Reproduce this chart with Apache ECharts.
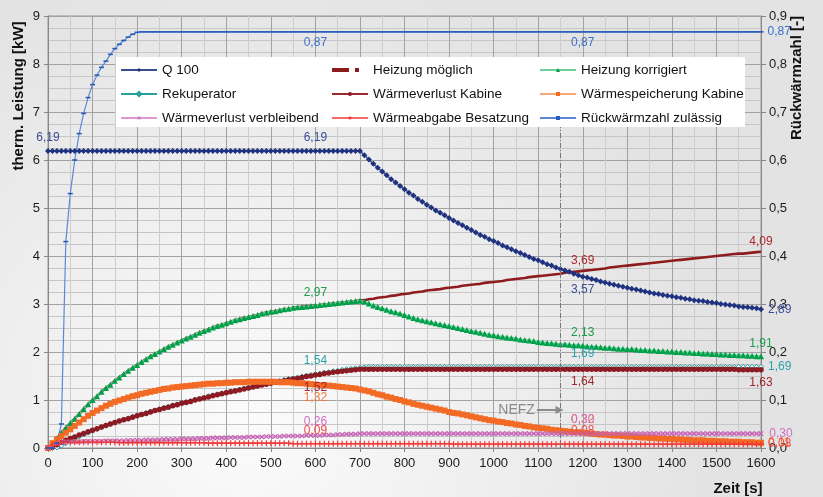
<!DOCTYPE html>
<html>
<head>
<meta charset="utf-8">
<script src="https://cdn.jsdelivr.net/npm/echarts@6/dist/echarts.min.js"></script>
<style>
html, body { margin: 0; padding: 0; }
#main { width: 823px; height: 497px; }
</style>
</head>
<body>
<div id="main"></div>
<script>
// Zeitachse [s]
var times = [0,
  10, 20, 30, 40, 50, 60, 70, 80, 90, 100,
  110, 120, 130, 140, 150, 160, 170, 180, 190, 200,
  210, 220, 230, 240, 250, 260, 270, 280, 290, 300,
  310, 320, 330, 340, 350, 360, 370, 380, 390, 400,
  410, 420, 430, 440, 450, 460, 470, 480, 490, 500,
  510, 520, 530, 540, 550, 560, 570, 580, 590, 600,
  610, 620, 630, 640, 650, 660, 670, 680, 690, 700,
  710, 720, 730, 740, 750, 760, 770, 780, 790, 800,
  810, 820, 830, 840, 850, 860, 870, 880, 890, 900,
  910, 920, 930, 940, 950, 960, 970, 980, 990, 1000,
  1010, 1020, 1030, 1040, 1050, 1060, 1070, 1080, 1090, 1100,
  1110, 1120, 1130, 1140, 1150, 1160, 1170, 1180, 1190, 1200,
  1210, 1220, 1230, 1240, 1250, 1260, 1270, 1280, 1290, 1300,
  1310, 1320, 1330, 1340, 1350, 1360, 1370, 1380, 1390, 1400,
  1410, 1420, 1430, 1440, 1450, 1460, 1470, 1480, 1490, 1500,
  1510, 1520, 1530, 1540, 1550, 1560, 1570, 1580, 1590, 1600];

var q100 = [6.19,
  6.19, 6.19, 6.19, 6.19, 6.19, 6.19, 6.19, 6.19, 6.19, 6.19,
  6.19, 6.19, 6.19, 6.19, 6.19, 6.19, 6.19, 6.19, 6.19, 6.19,
  6.19, 6.19, 6.19, 6.19, 6.19, 6.19, 6.19, 6.19, 6.19, 6.19,
  6.19, 6.19, 6.19, 6.19, 6.19, 6.19, 6.19, 6.19, 6.19, 6.19,
  6.19, 6.19, 6.19, 6.19, 6.19, 6.19, 6.19, 6.19, 6.19, 6.19,
  6.19, 6.19, 6.19, 6.19, 6.19, 6.19, 6.19, 6.19, 6.19, 6.19,
  6.19, 6.19, 6.19, 6.19, 6.19, 6.19, 6.19, 6.19, 6.19, 6.19,
  6.10, 6.01, 5.92, 5.84, 5.76, 5.68, 5.60, 5.53, 5.46, 5.39,
  5.32, 5.26, 5.19, 5.13, 5.07, 5.01, 4.95, 4.90, 4.85, 4.79,
  4.74, 4.69, 4.64, 4.59, 4.54, 4.49, 4.44, 4.40, 4.35, 4.31,
  4.27, 4.22, 4.18, 4.14, 4.10, 4.06, 4.02, 3.98, 3.94, 3.91,
  3.87, 3.83, 3.80, 3.76, 3.73, 3.70, 3.67, 3.63, 3.60, 3.57,
  3.55, 3.52, 3.50, 3.47, 3.45, 3.42, 3.40, 3.38, 3.36, 3.34,
  3.32, 3.30, 3.28, 3.26, 3.24, 3.22, 3.21, 3.19, 3.17, 3.16,
  3.14, 3.13, 3.11, 3.10, 3.08, 3.07, 3.06, 3.04, 3.03, 3.02,
  3.00, 2.99, 2.98, 2.97, 2.95, 2.94, 2.93, 2.92, 2.91, 2.89];

var heizungMoeglich = [0,
  0.05, 0.20, 0.32, 0.42, 0.52, 0.61, 0.71, 0.81, 0.91, 1.00,
  1.08, 1.17, 1.25, 1.32, 1.40, 1.47, 1.54, 1.61, 1.67, 1.73,
  1.79, 1.85, 1.91, 1.96, 2.01, 2.06, 2.11, 2.15, 2.20, 2.24,
  2.28, 2.32, 2.36, 2.40, 2.44, 2.47, 2.51, 2.54, 2.57, 2.60,
  2.63, 2.66, 2.68, 2.71, 2.73, 2.75, 2.77, 2.80, 2.82, 2.84,
  2.85, 2.87, 2.89, 2.90, 2.92, 2.93, 2.94, 2.95, 2.96, 2.97,
  2.98, 2.99, 3.00, 3.01, 3.02, 3.03, 3.04, 3.05, 3.06, 3.07,
  3.08, 3.10, 3.11, 3.13, 3.14, 3.15, 3.17, 3.18, 3.20, 3.21,
  3.22, 3.24, 3.25, 3.26, 3.28, 3.29, 3.30, 3.31, 3.33, 3.34,
  3.35, 3.36, 3.38, 3.39, 3.40, 3.41, 3.42, 3.44, 3.45, 3.46,
  3.47, 3.48, 3.50, 3.51, 3.52, 3.53, 3.54, 3.56, 3.57, 3.58,
  3.59, 3.60, 3.61, 3.62, 3.63, 3.65, 3.66, 3.67, 3.68, 3.69,
  3.70, 3.71, 3.72, 3.73, 3.74, 3.76, 3.77, 3.78, 3.79, 3.80,
  3.81, 3.82, 3.83, 3.84, 3.85, 3.86, 3.87, 3.88, 3.89, 3.90,
  3.91, 3.92, 3.93, 3.94, 3.95, 3.96, 3.97, 3.98, 3.99, 4.00,
  4.01, 4.02, 4.03, 4.04, 4.05, 4.05, 4.06, 4.07, 4.08, 4.09];

var heizungKorrigiert = [0,
  0.05, 0.20, 0.32, 0.42, 0.52, 0.61, 0.71, 0.81, 0.91, 1.00,
  1.08, 1.17, 1.25, 1.32, 1.40, 1.47, 1.54, 1.61, 1.67, 1.73,
  1.79, 1.85, 1.91, 1.96, 2.01, 2.06, 2.11, 2.15, 2.20, 2.24,
  2.28, 2.32, 2.36, 2.40, 2.44, 2.47, 2.51, 2.54, 2.57, 2.60,
  2.63, 2.66, 2.68, 2.71, 2.73, 2.75, 2.77, 2.80, 2.82, 2.84,
  2.85, 2.87, 2.89, 2.90, 2.92, 2.93, 2.94, 2.95, 2.96, 2.97,
  2.98, 2.99, 3.00, 3.01, 3.02, 3.03, 3.04, 3.05, 3.06, 3.07,
  3.05, 3.01, 2.97, 2.94, 2.91, 2.88, 2.85, 2.83, 2.80, 2.77,
  2.74, 2.71, 2.68, 2.66, 2.64, 2.62, 2.60, 2.58, 2.56, 2.54,
  2.52, 2.50, 2.48, 2.46, 2.44, 2.42, 2.40, 2.38, 2.36, 2.35,
  2.33, 2.32, 2.30, 2.29, 2.28, 2.26, 2.25, 2.24, 2.23, 2.21,
  2.20, 2.19, 2.18, 2.17, 2.16, 2.16, 2.15, 2.14, 2.14, 2.13,
  2.12, 2.11, 2.11, 2.10, 2.09, 2.09, 2.08, 2.07, 2.07, 2.06,
  2.06, 2.05, 2.04, 2.04, 2.03, 2.03, 2.02, 2.02, 2.01, 2.01,
  2.00, 2.00, 1.99, 1.99, 1.98, 1.98, 1.97, 1.97, 1.96, 1.96,
  1.95, 1.95, 1.94, 1.94, 1.93, 1.93, 1.92, 1.92, 1.91, 1.91];

var rekuperator = [0,
  0.00, 0.01, 0.05, 0.10, 0.15, 0.19, 0.24, 0.28, 0.32, 0.36,
  0.40, 0.43, 0.47, 0.50, 0.53, 0.56, 0.59, 0.62, 0.65, 0.68,
  0.70, 0.73, 0.76, 0.78, 0.81, 0.84, 0.86, 0.89, 0.91, 0.94,
  0.96, 0.98, 1.01, 1.03, 1.05, 1.08, 1.10, 1.12, 1.14, 1.16,
  1.18, 1.20, 1.22, 1.24, 1.26, 1.28, 1.30, 1.32, 1.34, 1.36,
  1.38, 1.40, 1.42, 1.44, 1.45, 1.47, 1.49, 1.51, 1.52, 1.54,
  1.55, 1.57, 1.58, 1.60, 1.61, 1.63, 1.64, 1.65, 1.66, 1.67,
  1.68, 1.69, 1.69, 1.69, 1.69, 1.69, 1.69, 1.69, 1.69, 1.69,
  1.69, 1.69, 1.69, 1.69, 1.69, 1.69, 1.69, 1.69, 1.69, 1.69,
  1.69, 1.69, 1.69, 1.69, 1.69, 1.69, 1.69, 1.69, 1.69, 1.69,
  1.69, 1.69, 1.69, 1.69, 1.69, 1.69, 1.69, 1.69, 1.69, 1.69,
  1.69, 1.69, 1.69, 1.69, 1.69, 1.69, 1.69, 1.69, 1.69, 1.69,
  1.69, 1.69, 1.69, 1.69, 1.69, 1.69, 1.69, 1.69, 1.69, 1.69,
  1.69, 1.69, 1.69, 1.69, 1.69, 1.69, 1.69, 1.69, 1.69, 1.69,
  1.69, 1.69, 1.69, 1.69, 1.69, 1.69, 1.69, 1.69, 1.69, 1.69,
  1.69, 1.69, 1.69, 1.69, 1.69, 1.69, 1.69, 1.69, 1.69, 1.69];

var verlustKabine = [0,
  0.02, 0.07, 0.12, 0.16, 0.20, 0.23, 0.27, 0.30, 0.34, 0.37,
  0.40, 0.44, 0.47, 0.50, 0.53, 0.56, 0.59, 0.61, 0.64, 0.67,
  0.70, 0.72, 0.75, 0.78, 0.80, 0.83, 0.85, 0.88, 0.90, 0.93,
  0.95, 0.97, 1.00, 1.02, 1.04, 1.06, 1.09, 1.11, 1.13, 1.15,
  1.17, 1.19, 1.21, 1.23, 1.25, 1.27, 1.29, 1.31, 1.33, 1.35,
  1.37, 1.38, 1.40, 1.42, 1.44, 1.45, 1.47, 1.49, 1.50, 1.52,
  1.53, 1.55, 1.56, 1.58, 1.59, 1.60, 1.61, 1.62, 1.63, 1.64,
  1.64, 1.64, 1.64, 1.64, 1.64, 1.64, 1.64, 1.64, 1.64, 1.64,
  1.64, 1.64, 1.64, 1.64, 1.64, 1.64, 1.64, 1.64, 1.64, 1.64,
  1.64, 1.64, 1.64, 1.64, 1.64, 1.64, 1.64, 1.64, 1.64, 1.64,
  1.64, 1.64, 1.64, 1.64, 1.64, 1.64, 1.64, 1.64, 1.64, 1.64,
  1.64, 1.64, 1.64, 1.64, 1.64, 1.64, 1.64, 1.64, 1.64, 1.64,
  1.64, 1.64, 1.64, 1.64, 1.64, 1.64, 1.64, 1.64, 1.64, 1.64,
  1.64, 1.64, 1.64, 1.64, 1.64, 1.64, 1.64, 1.64, 1.64, 1.64,
  1.64, 1.64, 1.64, 1.64, 1.64, 1.64, 1.64, 1.64, 1.64, 1.64,
  1.64, 1.64, 1.64, 1.64, 1.63, 1.63, 1.63, 1.63, 1.63, 1.63];

var speicherungKabine = [0,
  0.10, 0.18, 0.25, 0.32, 0.39, 0.46, 0.53, 0.60, 0.67, 0.73,
  0.78, 0.83, 0.88, 0.92, 0.96, 0.99, 1.02, 1.05, 1.08, 1.10,
  1.13, 1.15, 1.17, 1.19, 1.21, 1.23, 1.24, 1.26, 1.27, 1.28,
  1.29, 1.30, 1.31, 1.32, 1.33, 1.34, 1.34, 1.35, 1.35, 1.36,
  1.36, 1.37, 1.37, 1.37, 1.38, 1.38, 1.38, 1.38, 1.38, 1.38,
  1.38, 1.37, 1.37, 1.37, 1.36, 1.35, 1.35, 1.34, 1.33, 1.32,
  1.31, 1.31, 1.30, 1.29, 1.28, 1.27, 1.26, 1.25, 1.24, 1.22,
  1.20, 1.18, 1.15, 1.12, 1.10, 1.07, 1.05, 1.02, 1.00, 0.97,
  0.95, 0.92, 0.90, 0.88, 0.86, 0.84, 0.82, 0.80, 0.78, 0.75,
  0.73, 0.72, 0.70, 0.68, 0.66, 0.64, 0.62, 0.60, 0.58, 0.57,
  0.55, 0.54, 0.52, 0.51, 0.49, 0.48, 0.46, 0.45, 0.43, 0.42,
  0.41, 0.40, 0.38, 0.37, 0.36, 0.35, 0.34, 0.33, 0.33, 0.32,
  0.31, 0.30, 0.29, 0.28, 0.28, 0.27, 0.26, 0.26, 0.25, 0.24,
  0.24, 0.23, 0.22, 0.22, 0.21, 0.21, 0.20, 0.20, 0.19, 0.19,
  0.18, 0.18, 0.17, 0.17, 0.16, 0.16, 0.16, 0.15, 0.15, 0.14,
  0.14, 0.14, 0.13, 0.13, 0.13, 0.12, 0.12, 0.12, 0.11, 0.11];

var verlustVerbleibend = [0,
  0.03, 0.09, 0.12, 0.13, 0.13, 0.13, 0.13, 0.14, 0.14, 0.14,
  0.14, 0.14, 0.15, 0.15, 0.15, 0.15, 0.15, 0.16, 0.16, 0.16,
  0.16, 0.17, 0.17, 0.17, 0.17, 0.18, 0.18, 0.18, 0.18, 0.19,
  0.19, 0.19, 0.19, 0.20, 0.20, 0.20, 0.21, 0.21, 0.21, 0.21,
  0.22, 0.22, 0.22, 0.22, 0.23, 0.23, 0.23, 0.23, 0.24, 0.24,
  0.24, 0.24, 0.25, 0.25, 0.25, 0.25, 0.25, 0.26, 0.26, 0.26,
  0.26, 0.27, 0.27, 0.27, 0.28, 0.28, 0.29, 0.29, 0.29, 0.30,
  0.30, 0.30, 0.30, 0.30, 0.30, 0.30, 0.30, 0.30, 0.30, 0.30,
  0.30, 0.30, 0.30, 0.30, 0.30, 0.30, 0.30, 0.30, 0.30, 0.30,
  0.30, 0.30, 0.30, 0.30, 0.30, 0.30, 0.30, 0.30, 0.30, 0.30,
  0.30, 0.30, 0.30, 0.30, 0.30, 0.30, 0.30, 0.30, 0.30, 0.30,
  0.30, 0.30, 0.30, 0.30, 0.30, 0.30, 0.30, 0.30, 0.30, 0.30,
  0.30, 0.30, 0.30, 0.30, 0.30, 0.30, 0.30, 0.30, 0.30, 0.30,
  0.30, 0.30, 0.30, 0.30, 0.30, 0.30, 0.30, 0.30, 0.30, 0.30,
  0.30, 0.30, 0.30, 0.30, 0.30, 0.30, 0.30, 0.30, 0.30, 0.30,
  0.30, 0.30, 0.30, 0.30, 0.30, 0.30, 0.30, 0.30, 0.30, 0.30];

var abgabeBesatzung = [0,
  0.06, 0.11, 0.12, 0.12, 0.12, 0.12, 0.12, 0.12, 0.12, 0.12,
  0.12, 0.12, 0.12, 0.12, 0.12, 0.11, 0.11, 0.11, 0.11, 0.11,
  0.11, 0.11, 0.11, 0.11, 0.11, 0.11, 0.11, 0.11, 0.11, 0.11,
  0.11, 0.11, 0.11, 0.11, 0.11, 0.10, 0.10, 0.10, 0.10, 0.10,
  0.10, 0.10, 0.10, 0.10, 0.10, 0.10, 0.10, 0.10, 0.10, 0.10,
  0.10, 0.10, 0.10, 0.10, 0.09, 0.09, 0.09, 0.09, 0.09, 0.09,
  0.09, 0.09, 0.09, 0.09, 0.09, 0.09, 0.09, 0.09, 0.09, 0.09,
  0.09, 0.09, 0.09, 0.09, 0.09, 0.09, 0.09, 0.09, 0.09, 0.09,
  0.09, 0.09, 0.09, 0.09, 0.09, 0.09, 0.09, 0.09, 0.09, 0.09,
  0.08, 0.08, 0.08, 0.08, 0.08, 0.08, 0.08, 0.08, 0.08, 0.08,
  0.08, 0.08, 0.08, 0.08, 0.08, 0.08, 0.08, 0.08, 0.08, 0.08,
  0.08, 0.08, 0.08, 0.08, 0.08, 0.08, 0.08, 0.08, 0.08, 0.08,
  0.08, 0.08, 0.08, 0.08, 0.08, 0.08, 0.08, 0.08, 0.08, 0.08,
  0.08, 0.08, 0.08, 0.08, 0.08, 0.08, 0.08, 0.08, 0.08, 0.08,
  0.08, 0.08, 0.08, 0.08, 0.08, 0.08, 0.08, 0.08, 0.08, 0.08,
  0.08, 0.08, 0.08, 0.08, 0.08, 0.08, 0.08, 0.08, 0.08, 0.08];

// Rückwärmzahl (rechte Achse)
var rueckwaermzahl = [0,
  0.00, 0.01, 0.05, 0.43, 0.53, 0.60, 0.655, 0.697, 0.73, 0.757,
  0.777, 0.793, 0.806, 0.82, 0.832, 0.841, 0.849, 0.856, 0.862, 0.866,
  0.867, 0.867, 0.867, 0.867, 0.867, 0.867, 0.867, 0.867, 0.867, 0.867,
  0.867, 0.867, 0.867, 0.867, 0.867, 0.867, 0.867, 0.867, 0.867, 0.867,
  0.867, 0.867, 0.867, 0.867, 0.867, 0.867, 0.867, 0.867, 0.867, 0.867,
  0.867, 0.867, 0.867, 0.867, 0.867, 0.867, 0.867, 0.867, 0.867, 0.867,
  0.867, 0.867, 0.867, 0.867, 0.867, 0.867, 0.867, 0.867, 0.867, 0.867,
  0.867, 0.867, 0.867, 0.867, 0.867, 0.867, 0.867, 0.867, 0.867, 0.867,
  0.867, 0.867, 0.867, 0.867, 0.867, 0.867, 0.867, 0.867, 0.867, 0.867,
  0.867, 0.867, 0.867, 0.867, 0.867, 0.867, 0.867, 0.867, 0.867, 0.867,
  0.867, 0.867, 0.867, 0.867, 0.867, 0.867, 0.867, 0.867, 0.867, 0.867,
  0.867, 0.867, 0.867, 0.867, 0.867, 0.867, 0.867, 0.867, 0.867, 0.867,
  0.867, 0.867, 0.867, 0.867, 0.867, 0.867, 0.867, 0.867, 0.867, 0.867,
  0.867, 0.867, 0.867, 0.867, 0.867, 0.867, 0.867, 0.867, 0.867, 0.867,
  0.867, 0.867, 0.867, 0.867, 0.867, 0.867, 0.867, 0.867, 0.867, 0.867,
  0.867, 0.867, 0.867, 0.867, 0.867, 0.867, 0.867, 0.867, 0.867, 0.867];

var nefzTime = 1150;

var FONT = '"Liberation Sans", Arial, sans-serif';
var plusPath = 'path://M4,0H6V4H10V6H6V10H4V6H0V4H4Z';

function comma(v, d) {
    return v.toFixed(d).replace('.', ',');
}

// Datenpunkte mit Beschriftung an einzelnen Zeitpunkten
function buildData(values, labels, color) {
    var out = [];
    for (var i = 0; i < times.length; i++) {
        var item = { value: [times[i], values[i]] };
        for (var k = 0; k < labels.length; k++) {
            if (labels[k][0] === times[i]) {
                item.label = {
                    show: true,
                    position: labels[k][1],
                    distance: 4,
                    color: color,
                    fontSize: 12,
                    fontFamily: FONT,
                    formatter: function (p) { return comma(p.value[1], 2); }
                };
            }
        }
        out.push(item);
    }
    return out;
}

function lineSeries(name, values, cfg) {
    return {
        name: name,
        type: 'line',
        yAxisIndex: cfg.yAxisIndex || 0,
        data: buildData(values, cfg.labels, cfg.labelColor),
        symbol: cfg.symbol,
        symbolSize: cfg.symbolSize,
        symbolRotate: cfg.symbolRotate || 0,
        showSymbol: true,
        showAllSymbol: true,
        lineStyle: { color: cfg.lineColor, width: cfg.lineWidth },
        itemStyle: cfg.itemStyle,
        emphasis: { disabled: true },
        z: cfg.z || 2
    };
}

var myChart = echarts.init(document.getElementById('main'));

var series = [
    lineSeries('Heizung möglich', heizungMoeglich, {
        symbol: 'circle', symbolSize: 0.1, lineColor: '#8e1c1e', lineWidth: 2.6,
        itemStyle: { color: '#8e1c1e' }, labelColor: '#b0282c',
        labels: [[1200, 'top'], [1600, 'top']]
    }),
    lineSeries('Q 100', q100, {
        symbol: 'diamond', symbolSize: 6, lineColor: '#3b4c8e', lineWidth: 1.4,
        itemStyle: { color: '#1f3280' }, labelColor: '#3c4c94',
        labels: [[0, 'top'], [600, 'top'], [1200, 'bottom'], [1600, 'right']]
    }),
    lineSeries('Heizung korrigiert', heizungKorrigiert, {
        symbol: 'triangle', symbolSize: 6, lineColor: '#6fcf98', lineWidth: 2,
        itemStyle: { color: '#00a04a' }, labelColor: '#1f9a4c',
        labels: [[600, 'top'], [1200, 'top'], [1600, 'top']]
    }),
    lineSeries('Rekuperator', rekuperator, {
        symbol: 'diamond', symbolSize: 5, lineColor: '#24a2a2', lineWidth: 1.4,
        itemStyle: { color: '#ffffff', borderColor: '#1a9a9a', borderWidth: 1 },
        labelColor: '#2aa3aa',
        labels: [[600, 'top'], [1200, 'top'], [1600, 'right']]
    }),
    lineSeries('Wärmeverlust Kabine', verlustKabine, {
        symbol: 'circle', symbolSize: 5.5, lineColor: '#9a2a30', lineWidth: 1.4,
        itemStyle: { color: '#8b1a22' }, labelColor: '#a3262e',
        labels: [[600, 'bottom'], [1200, 'bottom'], [1600, 'bottom']]
    }),
    lineSeries('Wärmespeicherung Kabine', speicherungKabine, {
        symbol: 'rect', symbolSize: 6, lineColor: '#f8a878', lineWidth: 2,
        itemStyle: { color: '#f26a24' }, labelColor: '#f07a3c',
        labels: [[600, 'bottom'], [1200, 'top'], [1600, 'right']]
    }),
    lineSeries('Wärmeverlust verbleibend', verlustVerbleibend, {
        symbol: plusPath, symbolSize: 6, symbolRotate: 45, lineColor: '#dc98d0', lineWidth: 1.6,
        itemStyle: { color: '#c462b4' }, labelColor: '#d070c4',
        labels: [[600, 'top'], [1200, 'top'], [1600, 'right']]
    }),
    lineSeries('Wärmeabgabe Besatzung', abgabeBesatzung, {
        symbol: plusPath, symbolSize: 6, lineColor: '#f26a6a', lineWidth: 1.4,
        itemStyle: { color: '#ee3535' }, labelColor: '#f04a4a',
        labels: [[600, 'top'], [1200, 'top'], [1600, 'right']]
    }),
    lineSeries('Rückwärmzahl zulässig', rueckwaermzahl, {
        yAxisIndex: 1,
        symbol: 'rect', symbolSize: [5, 1.6], lineColor: '#5a88d6', lineWidth: 1.2,
        itemStyle: { color: '#2a5cbc' }, labelColor: '#3a70c8',
        labels: [[600, 'bottom'], [1200, 'bottom'], [1600, 'right']]
    })
];

// NEFZ-Markierung
series[1].markLine = {
    silent: true,
    animation: false,
    symbol: ['none', 'none'],
    data: [
        [
            { coord: [nefzTime, 0], lineStyle: { color: '#777', width: 1, type: [5, 2, 1, 2] }, label: { show: false } },
            { coord: [nefzTime, 6.7] }
        ],
        [
            { coord: [1097, 0.79], symbol: 'none', lineStyle: { color: '#8c8c8c', width: 2, type: 'solid' },
              label: { show: true, position: 'start', formatter: 'NEFZ', color: '#8a8a8a', fontSize: 14, fontFamily: FONT, distance: 2 } },
            { coord: [nefzTime - 2, 0.79], symbol: 'triangle', symbolSize: [8, 8] }
        ]
    ]
};

var legendBase = {
    orient: 'vertical',
    top: 63,
    padding: 0,
    itemWidth: 36,
    itemHeight: 5,
    itemGap: 10,
    selectedMode: false,
    textStyle: { fontSize: 13.5, color: '#111', fontFamily: FONT },
    z: 10
};

option = {
    animation: false,
    backgroundColor: new echarts.graphic.RadialGradient(0.3, 0.85, 0.95, [
        { offset: 0, color: '#fbfbfb' },
        { offset: 1, color: '#e3e3e3' }
    ]),
    textStyle: { fontFamily: FONT },
    grid: {
        left: 48, right: 62, top: 16, bottom: 49,
        show: true, borderColor: '#999', borderWidth: 1
    },
    xAxis: {
        type: 'value',
        min: 0, max: 1600, interval: 100,
        axisLine: { lineStyle: { color: '#888' } },
        axisTick: { show: true, length: 4, lineStyle: { color: '#888' } },
        axisLabel: {
            color: '#1a1a1a', fontSize: 13, margin: 9,
            formatter: function (v) { return String(v); }
        },
        splitLine: { lineStyle: { color: '#a2a2a2' } },
        minorTick: { show: false, splitNumber: 2 },
        minorSplitLine: { show: true, lineStyle: { color: '#cdcdcd' } }
    },
    yAxis: [{
        type: 'value',
        min: 0, max: 9, interval: 1,
        axisLine: { show: true, lineStyle: { color: '#888' } },
        axisTick: { show: true, length: 4, lineStyle: { color: '#888' } },
        axisLabel: { color: '#1a1a1a', fontSize: 13, margin: 8 },
        splitLine: { lineStyle: { color: '#a2a2a2' } },
        minorTick: { show: false, splitNumber: 4 },
        minorSplitLine: { show: true, lineStyle: { color: '#c6c6c6' } }
    }, {
        type: 'value',
        position: 'right',
        min: 0, max: 0.9, interval: 0.1,
        axisLine: { show: true, lineStyle: { color: '#888' } },
        axisTick: { show: true, length: 5, lineStyle: { color: '#888' } },
        axisLabel: {
            color: '#1a1a1a', fontSize: 13, margin: 8,
            formatter: function (v) { return comma(v, 1); }
        },
        splitLine: { show: false }
    }],
    legend: [
        Object.assign({}, legendBase, { left: 120, data: ['Q 100', 'Rekuperator', 'Wärmeverlust verbleibend'] }),
        Object.assign({}, legendBase, { left: 330, data: [
            { name: 'Heizung möglich', itemStyle: { opacity: 0 }, lineStyle: { type: [17, 6, 4, 20], width: 4 } },
            'Wärmeverlust Kabine', 'Wärmeabgabe Besatzung'] }),
        Object.assign({}, legendBase, { left: 539, data: ['Heizung korrigiert', 'Wärmespeicherung Kabine', 'Rückwärmzahl zulässig'] })
    ],
    graphic: [
        {
            type: 'rect', z: 8,
            shape: { x: 116, y: 57, width: 629, height: 70 },
            style: { fill: '#ffffff' }
        },
        {
            type: 'text', z: 8,
            x: 19, y: 96, rotation: Math.PI / 2,
            style: {
                text: 'therm. Leistung [kW]', fill: '#111',
                font: 'bold 15px ' + FONT,
                align: 'center', verticalAlign: 'middle',
                textAlign: 'center', textVerticalAlign: 'middle'
            }
        },
        {
            type: 'text', z: 8,
            x: 797, y: 78, rotation: Math.PI / 2,
            style: {
                text: 'Rückwärmzahl [-]', fill: '#111',
                font: 'bold 15px ' + FONT,
                align: 'center', verticalAlign: 'middle',
                textAlign: 'center', textVerticalAlign: 'middle'
            }
        },
        {
            type: 'text', z: 8,
            x: 738, y: 489,
            style: {
                text: 'Zeit [s]', fill: '#111',
                font: 'bold 15px ' + FONT,
                align: 'center', verticalAlign: 'middle',
                textAlign: 'center', textVerticalAlign: 'middle'
            }
        }
    ],
    series: series
};

myChart.setOption(option);
</script>
</body>
</html>
